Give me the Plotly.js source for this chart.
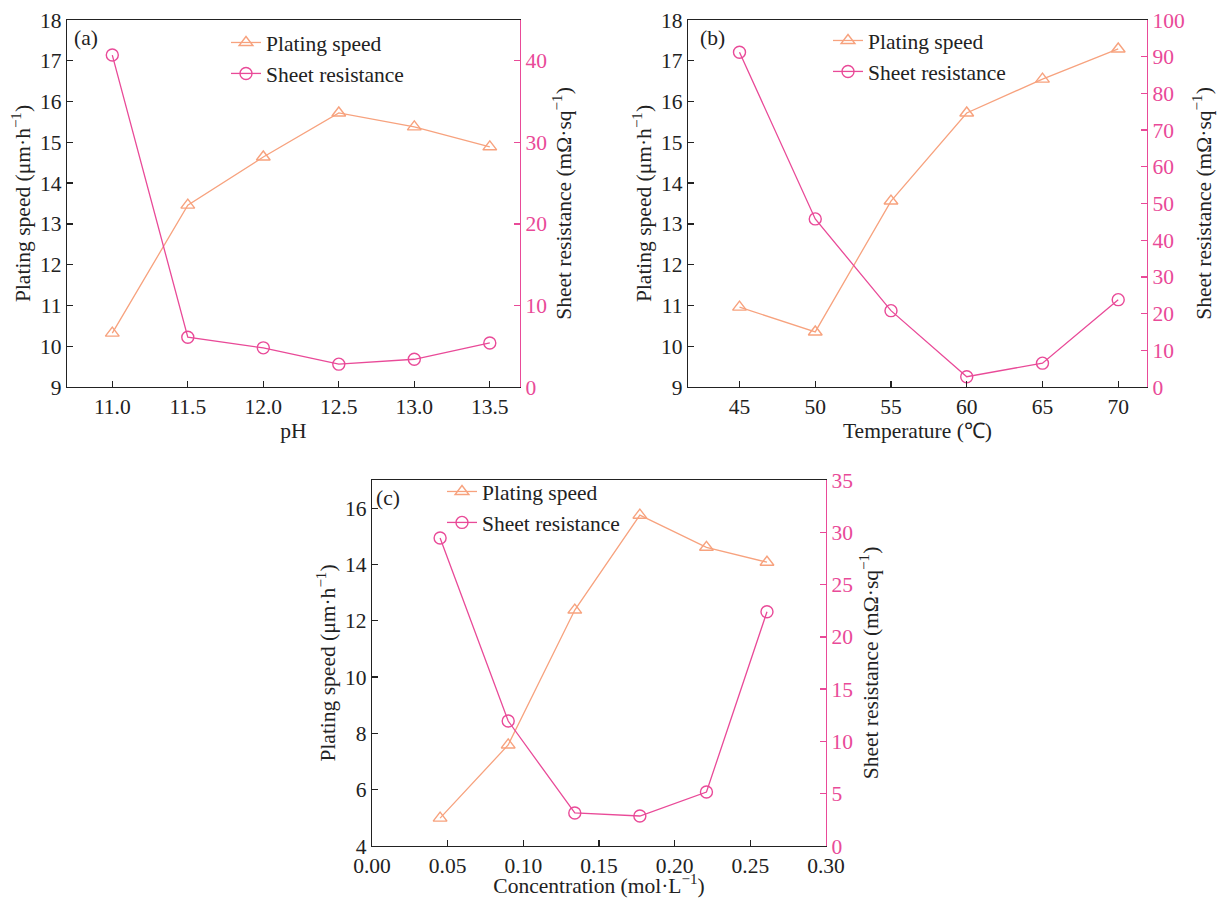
<!DOCTYPE html>
<html>
<head>
<meta charset="utf-8">
<script src="https://cdn.plot.ly/plotly-3.0.1.min.js"></script>
<style>html,body{margin:0;padding:0;background:#fff;}#chart{width:1217px;height:898px;}</style>
</head>
<body>
<div id="chart"></div>
<script>
// Panel (a): pH
const phValues = [11.0, 11.5, 12.0, 12.5, 13.0, 13.5];
const phSpeed = [10.32, 13.46, 14.64, 15.72, 15.38, 14.89];
const phResistance = [40.7, 6.1, 4.8, 2.8, 3.4, 5.4];
// Panel (b): Temperature
const tempValues = [45, 50, 55, 60, 65, 70];
const tempSpeed = [10.96, 10.35, 13.56, 15.72, 16.55, 17.29];
const tempResistance = [91.2, 45.8, 20.8, 2.8, 6.5, 23.8];
// Panel (c): Concentration
const concValues = [0.045, 0.09, 0.134, 0.177, 0.221, 0.261];
const concSpeed = [4.99, 7.59, 12.38, 15.75, 14.61, 14.08];
const concResistance = [29.45, 11.95, 3.16, 2.87, 5.16, 22.4];

const seriesNames = ['Plating speed', 'Sheet resistance'];
const panelLabels = ['(a)', '(b)', '(c)'];

const ORANGE = '#F7A27E';
const PINK = '#E94A98';
const FONT = 'Liberation Serif, Times New Roman, serif';
const FS = 21.5;

function speedTrace(x, y, xa, ya, lg) {
  return {x: x, y: y, xaxis: xa, yaxis: ya, legend: lg, name: seriesNames[0], type: 'scatter', mode: 'lines+markers',
    line: {color: ORANGE, width: 1.3}, marker: {symbol: 'triangle-up-open', size: 12, color: ORANGE, line: {width: 1.4, color: ORANGE}}};
}
function resTrace(x, y, xa, ya, lg) {
  return {x: x, y: y, xaxis: xa, yaxis: ya, legend: lg, name: seriesNames[1], type: 'scatter', mode: 'lines+markers',
    line: {color: PINK, width: 1.3}, marker: {symbol: 'circle-open', size: 12, color: PINK, line: {width: 1.4, color: PINK}}};
}

const data = [
  speedTrace(phValues, phSpeed, 'x', 'y', 'legend'),
  resTrace(phValues, phResistance, 'x', 'y2', 'legend'),
  speedTrace(tempValues, tempSpeed, 'x2', 'y3', 'legend2'),
  resTrace(tempValues, tempResistance, 'x2', 'y4', 'legend2'),
  speedTrace(concValues, concSpeed, 'x3', 'y5', 'legend3'),
  resTrace(concValues, concResistance, 'x3', 'y6', 'legend3')
];

function xAxis(domain, range, dtick, fmt, title, anchor, standoff) {
  return {domain: domain, range: range, dtick: dtick, tick0: 0, tickformat: fmt, anchor: anchor,
    showline: true, linecolor: '#222', linewidth: 1.3, mirror: true, ticks: 'inside', ticklen: 6, tickcolor: '#222', tickwidth: 1.3,
    showgrid: false, zeroline: false, tickfont: {family: FONT, size: FS, color: '#222'},
    title: {text: title, font: {family: FONT, size: FS, color: '#222'}, standoff: standoff}};
}
function yLeft(domain, range, dtick, anchor) {
  return {domain: domain, range: range, dtick: dtick, anchor: anchor,
    showline: true, linecolor: '#222', linewidth: 1.3, ticks: 'inside', ticklen: 6, tickcolor: '#222', tickwidth: 1.3,
    showgrid: false, zeroline: false, tickfont: {family: FONT, size: FS, color: '#222'},
    title: {text: 'Plating speed (μm·h<sup>−1</sup>)', font: {family: FONT, size: FS, color: '#222'}, standoff: 3}};
}
function yRight(range, dtick, overlay, anchor, standoff) {
  return {overlaying: overlay, side: 'right', anchor: anchor, range: range, dtick: dtick,
    showline: true, linecolor: PINK, linewidth: 1.3, ticks: 'inside', ticklen: 6, tickcolor: PINK, tickwidth: 1.3,
    showgrid: false, zeroline: false, tickfont: {family: FONT, size: FS, color: PINK},
    title: {text: 'Sheet resistance (mΩ·sq<sup>−1</sup>)', font: {family: FONT, size: FS, color: '#222'}, standoff: standoff}};
}

const legendBase = {bgcolor: 'rgba(0,0,0,0)', borderwidth: 0, font: {family: FONT, size: FS, color: '#222'},
  xanchor: 'left', yanchor: 'top', tracegroupgap: 0};

const layout = {
  width: 1217, height: 898,
  margin: {l: 0, r: 0, t: 0, b: 0},
  paper_bgcolor: '#fff', plot_bgcolor: '#fff',
  font: {family: FONT, size: FS, color: '#222'},
  xaxis: xAxis([67/1217, 520/1217], [10.7, 13.7], 0.5, '.1f', 'pH', 'y', 0),
  yaxis: yLeft([1-387/898, 1-20/898], [9, 18], 1, 'x'),
  yaxis2: yRight([0, 45], 10, 'y', 'x', 10),
  xaxis2: xAxis([688/1217, 1147/1217], [41.6, 71.9], 5, 'd', 'Temperature (℃)', 'y3', 0),
  yaxis3: yLeft([1-387/898, 1-20/898], [9, 18], 1, 'x2'),
  yaxis4: yRight([0, 100], 10, 'y3', 'x2', 12),
  xaxis3: xAxis([372/1217, 826/1217], [0, 0.30], 0.05, '.2f', 'Concentration (mol·L<sup>−1</sup>)', 'y5', 2),
  yaxis5: yLeft([1-846/898, 1-480/898], [4, 17], 2, 'x3'),
  yaxis6: yRight([0, 35], 5, 'y5', 'x3', 11),
  legend: Object.assign({}, legendBase, {x: 226/1217, y: 1-22/898}),
  legend2: Object.assign({}, legendBase, {x: 828/1217, y: 1-20/898}),
  legend3: Object.assign({}, legendBase, {x: 442/1217, y: 1-471/898}),
  annotations: [
    {text: panelLabels[0], xref: 'x domain', yref: 'y domain', x: 0.012, y: 0.99, xanchor: 'left', yanchor: 'top', showarrow: false, font: {family: FONT, size: FS, color: '#222'}},
    {text: panelLabels[1], xref: 'x2 domain', yref: 'y3 domain', x: 0.022, y: 0.99, xanchor: 'left', yanchor: 'top', showarrow: false, font: {family: FONT, size: FS, color: '#222'}},
    {text: panelLabels[2], xref: 'x3 domain', yref: 'y5 domain', x: 0.005, y: 0.99, xanchor: 'left', yanchor: 'top', showarrow: false, font: {family: FONT, size: FS, color: '#222'}}
  ],
  showlegend: true
};

Plotly.newPlot('chart', data, layout, {displayModeBar: false, staticPlot: true});
</script>
</body>
</html>
